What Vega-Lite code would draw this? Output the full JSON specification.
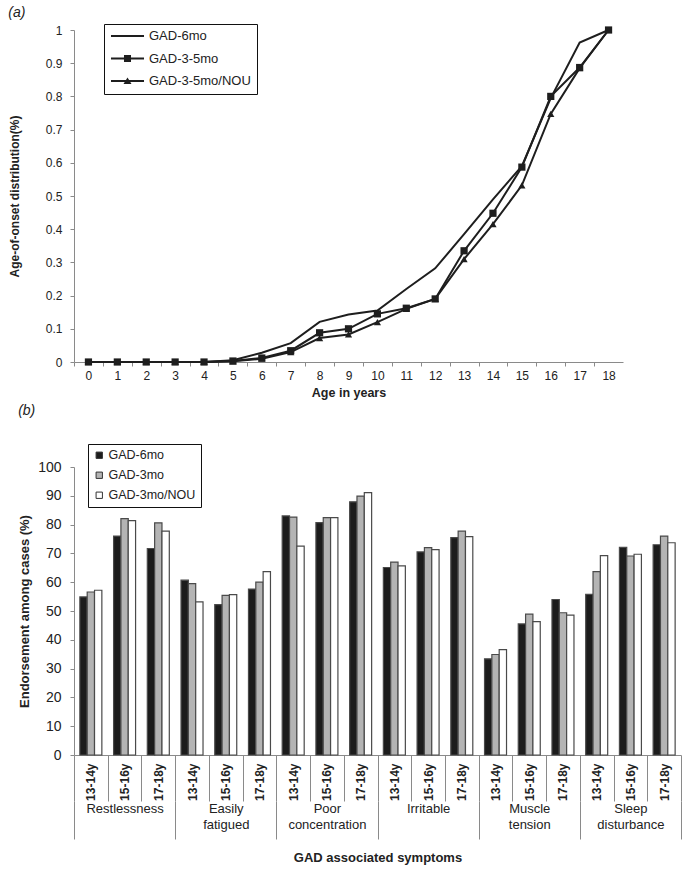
{
  "$schema": "https://vega.github.io/schema/vega-lite/v6.json",
  "padding": {"left": 8, "top": 5, "right": 5, "bottom": 5},
  "spacing": 4,
  "align": "none",
  "resolve": {"legend": {"shape": "independent", "fill": "independent"}, "scale": {"shape": "independent", "fill": "independent"}},
  "config": {
    "view": {"stroke": null},
    "font": "Liberation Sans",
    "axis": {"grid": false, "domainColor": "#8a8a8a", "tickColor": "#8a8a8a", "labelColor": "#222222", "titleColor": "#222222", "labelFont": "Liberation Sans", "titleFont": "Liberation Sans"},
    "legend": {"labelFont": "Liberation Sans", "labelColor": "#222222"},
    "title": {"font": "Liberation Sans", "color": "#222222"}
  },
  "vconcat": [
    {
      "width": 549,
      "height": 332,
      "title": {"text": "(a)", "anchor": "start", "frame": "bounds", "fontSize": 14, "fontWeight": "normal", "fontStyle": "italic", "offset": 4},
      "data": {"values": [
        {"age": 0, "series": "GAD-6mo", "v": 0}, {"age": 1, "series": "GAD-6mo", "v": 0}, {"age": 2, "series": "GAD-6mo", "v": 0}, {"age": 3, "series": "GAD-6mo", "v": 0}, {"age": 4, "series": "GAD-6mo", "v": 0}, {"age": 5, "series": "GAD-6mo", "v": 0.005}, {"age": 6, "series": "GAD-6mo", "v": 0.028}, {"age": 7, "series": "GAD-6mo", "v": 0.057}, {"age": 8, "series": "GAD-6mo", "v": 0.121}, {"age": 9, "series": "GAD-6mo", "v": 0.143}, {"age": 10, "series": "GAD-6mo", "v": 0.155}, {"age": 11, "series": "GAD-6mo", "v": 0.22}, {"age": 12, "series": "GAD-6mo", "v": 0.282}, {"age": 13, "series": "GAD-6mo", "v": 0.385}, {"age": 14, "series": "GAD-6mo", "v": 0.49}, {"age": 15, "series": "GAD-6mo", "v": 0.59}, {"age": 16, "series": "GAD-6mo", "v": 0.795}, {"age": 17, "series": "GAD-6mo", "v": 0.962}, {"age": 18, "series": "GAD-6mo", "v": 1.0},
        {"age": 0, "series": "GAD-3-5mo", "v": 0}, {"age": 1, "series": "GAD-3-5mo", "v": 0}, {"age": 2, "series": "GAD-3-5mo", "v": 0}, {"age": 3, "series": "GAD-3-5mo", "v": 0}, {"age": 4, "series": "GAD-3-5mo", "v": 0}, {"age": 5, "series": "GAD-3-5mo", "v": 0.003}, {"age": 6, "series": "GAD-3-5mo", "v": 0.012}, {"age": 7, "series": "GAD-3-5mo", "v": 0.034}, {"age": 8, "series": "GAD-3-5mo", "v": 0.088}, {"age": 9, "series": "GAD-3-5mo", "v": 0.1}, {"age": 10, "series": "GAD-3-5mo", "v": 0.145}, {"age": 11, "series": "GAD-3-5mo", "v": 0.162}, {"age": 12, "series": "GAD-3-5mo", "v": 0.19}, {"age": 13, "series": "GAD-3-5mo", "v": 0.335}, {"age": 14, "series": "GAD-3-5mo", "v": 0.448}, {"age": 15, "series": "GAD-3-5mo", "v": 0.587}, {"age": 16, "series": "GAD-3-5mo", "v": 0.8}, {"age": 17, "series": "GAD-3-5mo", "v": 0.887}, {"age": 18, "series": "GAD-3-5mo", "v": 1.0},
        {"age": 0, "series": "GAD-3-5mo/NOU", "v": 0}, {"age": 1, "series": "GAD-3-5mo/NOU", "v": 0}, {"age": 2, "series": "GAD-3-5mo/NOU", "v": 0}, {"age": 3, "series": "GAD-3-5mo/NOU", "v": 0}, {"age": 4, "series": "GAD-3-5mo/NOU", "v": 0}, {"age": 5, "series": "GAD-3-5mo/NOU", "v": 0.002}, {"age": 6, "series": "GAD-3-5mo/NOU", "v": 0.01}, {"age": 7, "series": "GAD-3-5mo/NOU", "v": 0.03}, {"age": 8, "series": "GAD-3-5mo/NOU", "v": 0.072}, {"age": 9, "series": "GAD-3-5mo/NOU", "v": 0.083}, {"age": 10, "series": "GAD-3-5mo/NOU", "v": 0.12}, {"age": 11, "series": "GAD-3-5mo/NOU", "v": 0.16}, {"age": 12, "series": "GAD-3-5mo/NOU", "v": 0.19}, {"age": 13, "series": "GAD-3-5mo/NOU", "v": 0.31}, {"age": 14, "series": "GAD-3-5mo/NOU", "v": 0.415}, {"age": 15, "series": "GAD-3-5mo/NOU", "v": 0.532}, {"age": 16, "series": "GAD-3-5mo/NOU", "v": 0.747}, {"age": 17, "series": "GAD-3-5mo/NOU", "v": 0.885}, {"age": 18, "series": "GAD-3-5mo/NOU", "v": 1.0}
      ]},
      "encoding": {
        "x": {"field": "age", "type": "quantitative", "scale": {"domain": [-0.5, 18.5], "nice": false, "zero": false},
          "axis": {"values": [0,1,2,3,4,5,6,7,8,9,10,11,12,13,14,15,16,17,18,19], "format": "d", "tickOffset": -14.447, "labelOffset": 14.447, "labelExpr": "datum.value > 18 ? '' : datum.label", "labelFlush": false, "labelOverlap": false, "tickSize": 4, "labelPadding": 4, "labelFontSize": 12, "title": "Age in years", "titleFontSize": 12.5, "titleFontWeight": "bold", "titlePadding": 5}},
        "y": {"field": "v", "type": "quantitative", "scale": {"domain": [0, 1], "nice": false},
          "axis": {"values": [0,0.1,0.2,0.3,0.4,0.5,0.6,0.7,0.8,0.9,1], "format": "~g", "tickSize": 4, "labelPadding": 8, "labelFontSize": 12, "title": "Age-of-onset distribution(%)", "titleFontSize": 12, "titleFontWeight": "bold", "titlePadding": 24}}
      },
      "layer": [
        {"mark": {"type": "line", "color": "#1e1e1e", "strokeWidth": 2},
         "encoding": {"detail": {"field": "series"}}},
        {"transform": [{"filter": "datum.series != 'GAD-6mo'"}],
         "mark": {"type": "point", "filled": true, "color": "#1e1e1e", "opacity": 1, "size": 52},
         "encoding": {"shape": {"field": "series", "type": "nominal", "scale": {"domain": ["GAD-3-5mo", "GAD-3-5mo/NOU"], "range": ["square", "triangle-up"]}, "legend": null}}},
        {"mark": {"type": "point", "filled": true, "color": "#1e1e1e", "opacity": 0},
         "encoding": {"shape": {"field": "series", "type": "nominal",
           "scale": {"domain": ["GAD-6mo", "GAD-3-5mo", "GAD-3-5mo/NOU"],
             "range": ["M-2.54,-0.154H2.54V0.154H-2.54Z",
                       "M-2.54,-0.154H-0.54V-0.54H0.54V-0.154H2.54V0.154H0.54V0.54H-0.54V0.154H-2.54Z",
                       "M-2.54,-0.154H-0.237L0,-0.54L0.237,-0.154H2.54V0.154H0.427L0.615,0.46H-0.615L-0.427,0.154H-2.54Z"]},
           "legend": {"orient": "none", "legendX": 30, "legendY": -6, "title": null, "symbolSize": 169, "symbolOffset": 11.5, "labelOffset": 15, "padding": 5.5, "rowPadding": 8.5, "strokeColor": "#111111", "fillColor": "#ffffff", "labelFontSize": 13, "symbolFillColor": "#1e1e1e", "symbolStrokeWidth": 0}}}}
      ],
      "resolve": {"scale": {"shape": "independent"}}
    },
    {
      "width": 607,
      "height": 288,
      "title": {"text": "(b)", "anchor": "start", "frame": "bounds", "fontSize": 14, "fontWeight": "normal", "fontStyle": "italic", "offset": 26},
      "data": {"values": [
        {"g": "Restlessness", "c": "Restlessness 13-14y", "s": "GAD-6mo", "v": 54.9}, {"g": "Restlessness", "c": "Restlessness 13-14y", "s": "GAD-3mo", "v": 56.6}, {"g": "Restlessness", "c": "Restlessness 13-14y", "s": "GAD-3mo/NOU", "v": 57.2},
        {"g": "Restlessness", "c": "Restlessness 15-16y", "s": "GAD-6mo", "v": 76.0}, {"g": "Restlessness", "c": "Restlessness 15-16y", "s": "GAD-3mo", "v": 82.1}, {"g": "Restlessness", "c": "Restlessness 15-16y", "s": "GAD-3mo/NOU", "v": 81.4},
        {"g": "Restlessness", "c": "Restlessness 17-18y", "s": "GAD-6mo", "v": 71.7}, {"g": "Restlessness", "c": "Restlessness 17-18y", "s": "GAD-3mo", "v": 80.6}, {"g": "Restlessness", "c": "Restlessness 17-18y", "s": "GAD-3mo/NOU", "v": 77.7},
        {"g": "Easily fatigued", "c": "Easily fatigued 13-14y", "s": "GAD-6mo", "v": 60.7}, {"g": "Easily fatigued", "c": "Easily fatigued 13-14y", "s": "GAD-3mo", "v": 59.5}, {"g": "Easily fatigued", "c": "Easily fatigued 13-14y", "s": "GAD-3mo/NOU", "v": 53.2},
        {"g": "Easily fatigued", "c": "Easily fatigued 15-16y", "s": "GAD-6mo", "v": 52.2}, {"g": "Easily fatigued", "c": "Easily fatigued 15-16y", "s": "GAD-3mo", "v": 55.4}, {"g": "Easily fatigued", "c": "Easily fatigued 15-16y", "s": "GAD-3mo/NOU", "v": 55.7},
        {"g": "Easily fatigued", "c": "Easily fatigued 17-18y", "s": "GAD-6mo", "v": 57.6}, {"g": "Easily fatigued", "c": "Easily fatigued 17-18y", "s": "GAD-3mo", "v": 60.0}, {"g": "Easily fatigued", "c": "Easily fatigued 17-18y", "s": "GAD-3mo/NOU", "v": 63.7},
        {"g": "Poor concentration", "c": "Poor concentration 13-14y", "s": "GAD-6mo", "v": 83.0}, {"g": "Poor concentration", "c": "Poor concentration 13-14y", "s": "GAD-3mo", "v": 82.6}, {"g": "Poor concentration", "c": "Poor concentration 13-14y", "s": "GAD-3mo/NOU", "v": 72.5},
        {"g": "Poor concentration", "c": "Poor concentration 15-16y", "s": "GAD-6mo", "v": 80.7}, {"g": "Poor concentration", "c": "Poor concentration 15-16y", "s": "GAD-3mo", "v": 82.4}, {"g": "Poor concentration", "c": "Poor concentration 15-16y", "s": "GAD-3mo/NOU", "v": 82.4},
        {"g": "Poor concentration", "c": "Poor concentration 17-18y", "s": "GAD-6mo", "v": 87.9}, {"g": "Poor concentration", "c": "Poor concentration 17-18y", "s": "GAD-3mo", "v": 89.9}, {"g": "Poor concentration", "c": "Poor concentration 17-18y", "s": "GAD-3mo/NOU", "v": 91.1},
        {"g": "Irritable", "c": "Irritable 13-14y", "s": "GAD-6mo", "v": 65.1}, {"g": "Irritable", "c": "Irritable 13-14y", "s": "GAD-3mo", "v": 67.0}, {"g": "Irritable", "c": "Irritable 13-14y", "s": "GAD-3mo/NOU", "v": 65.7},
        {"g": "Irritable", "c": "Irritable 15-16y", "s": "GAD-6mo", "v": 70.5}, {"g": "Irritable", "c": "Irritable 15-16y", "s": "GAD-3mo", "v": 72.0}, {"g": "Irritable", "c": "Irritable 15-16y", "s": "GAD-3mo/NOU", "v": 71.3},
        {"g": "Irritable", "c": "Irritable 17-18y", "s": "GAD-6mo", "v": 75.5}, {"g": "Irritable", "c": "Irritable 17-18y", "s": "GAD-3mo", "v": 77.7}, {"g": "Irritable", "c": "Irritable 17-18y", "s": "GAD-3mo/NOU", "v": 75.8},
        {"g": "Muscle tension", "c": "Muscle tension 13-14y", "s": "GAD-6mo", "v": 33.4}, {"g": "Muscle tension", "c": "Muscle tension 13-14y", "s": "GAD-3mo", "v": 34.9}, {"g": "Muscle tension", "c": "Muscle tension 13-14y", "s": "GAD-3mo/NOU", "v": 36.6},
        {"g": "Muscle tension", "c": "Muscle tension 15-16y", "s": "GAD-6mo", "v": 45.5}, {"g": "Muscle tension", "c": "Muscle tension 15-16y", "s": "GAD-3mo", "v": 48.9}, {"g": "Muscle tension", "c": "Muscle tension 15-16y", "s": "GAD-3mo/NOU", "v": 46.3},
        {"g": "Muscle tension", "c": "Muscle tension 17-18y", "s": "GAD-6mo", "v": 54.0}, {"g": "Muscle tension", "c": "Muscle tension 17-18y", "s": "GAD-3mo", "v": 49.4}, {"g": "Muscle tension", "c": "Muscle tension 17-18y", "s": "GAD-3mo/NOU", "v": 48.6},
        {"g": "Sleep disturbance", "c": "Sleep disturbance 13-14y", "s": "GAD-6mo", "v": 55.8}, {"g": "Sleep disturbance", "c": "Sleep disturbance 13-14y", "s": "GAD-3mo", "v": 63.7}, {"g": "Sleep disturbance", "c": "Sleep disturbance 13-14y", "s": "GAD-3mo/NOU", "v": 69.2},
        {"g": "Sleep disturbance", "c": "Sleep disturbance 15-16y", "s": "GAD-6mo", "v": 72.1}, {"g": "Sleep disturbance", "c": "Sleep disturbance 15-16y", "s": "GAD-3mo", "v": 69.1}, {"g": "Sleep disturbance", "c": "Sleep disturbance 15-16y", "s": "GAD-3mo/NOU", "v": 69.7},
        {"g": "Sleep disturbance", "c": "Sleep disturbance 17-18y", "s": "GAD-6mo", "v": 73.0}, {"g": "Sleep disturbance", "c": "Sleep disturbance 17-18y", "s": "GAD-3mo", "v": 76.0}, {"g": "Sleep disturbance", "c": "Sleep disturbance 17-18y", "s": "GAD-3mo/NOU", "v": 73.7}
      ]},
      "layer": [
        {"mark": {"type": "bar", "stroke": "#4a4a4a", "strokeWidth": 1.2},
         "encoding": {
           "x": {"field": "c", "type": "nominal", "sort": null, "scale": {"paddingInner": 0, "paddingOuter": 0},
             "axis": {"title": null, "labelExpr": "slice(datum.label, -6)", "labelAngle": 270, "labelFontSize": 12, "labelFontWeight": "bold", "tickBand": "extent", "tickSize": 46, "labelPadding": -38, "labelOverlap": false}},
           "xOffset": {"field": "s", "type": "nominal", "sort": null, "scale": {"domain": ["GAD-6mo", "GAD-3mo", "GAD-3mo/NOU"], "paddingInner": 0, "paddingOuter": 0.8}},
           "y": {"field": "v", "type": "quantitative", "scale": {"domain": [0, 100], "nice": false},
             "axis": {"values": [0,10,20,30,40,50,60,70,80,90,100], "tickSize": 4, "labelPadding": 9, "labelFontSize": 14, "title": "Endorsement among cases (%)", "titleFontSize": 13, "titleFontWeight": "bold", "titlePadding": 6.5}},
           "fill": {"field": "s", "type": "nominal", "scale": {"domain": ["GAD-6mo", "GAD-3mo", "GAD-3mo/NOU"], "range": ["#1c1c1c", "#b4b4b4", "#ffffff"]},
             "legend": {"orient": "none", "legendX": 14, "legendY": -23, "title": null, "symbolType": "square", "symbolSize": 40, "symbolStrokeColor": "#333333", "symbolStrokeWidth": 1, "labelFontSize": 12.5, "labelOffset": 3, "padding": 5, "rowPadding": 7, "strokeColor": "#111111", "fillColor": "#ffffff"}}
         }},
        {"mark": {"type": "rule", "opacity": 0},
         "encoding": {
           "x": {"field": "g", "type": "nominal", "sort": null, "scale": {"paddingInner": 0, "paddingOuter": 0},
             "axis": {"orient": "bottom", "offset": 46, "domain": false, "tickBand": "extent", "tickSize": 38, "labelPadding": -37, "labelAngle": 0, "labelFontSize": 13, "labelLineHeight": 16, "labelExpr": "split(datum.label, ' ')", "labelOverlap": false, "title": "GAD associated symptoms", "titleFontSize": 13, "titleFontWeight": "bold", "titlePadding": 12}}
         }}
      ],
      "resolve": {"scale": {"x": "independent"}, "axis": {"x": "independent"}}
    }
  ]
}
